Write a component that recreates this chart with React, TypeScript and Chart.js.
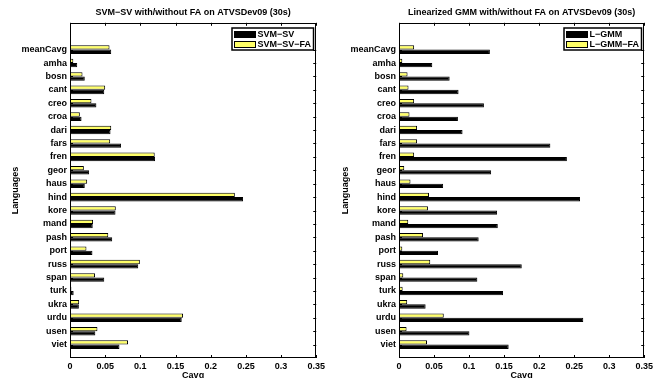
import React, { useEffect, useRef } from 'react';
import { Chart, registerables } from 'chart.js';
Chart.register(...registerables);

const languages = ['meanCavg', 'amha', 'bosn', 'cant', 'creo', 'croa', 'dari', 'fars', 'fren', 'geor', 'haus', 'hind', 'kore', 'mand', 'pash', 'port', 'russ', 'span', 'turk', 'ukra', 'urdu', 'usen', 'viet'];

const svmSV = [0.0586, 0.0103, 0.021, 0.0487, 0.0375, 0.0164, 0.0576, 0.0726, 0.1209, 0.0272, 0.021, 0.246, 0.0647, 0.0323, 0.060, 0.0319, 0.097, 0.0487, 0.0052, 0.0126, 0.1588, 0.036, 0.0703];
const svmSVFA = [0.0562, 0.0047, 0.0178, 0.050, 0.0305, 0.014, 0.0586, 0.0571, 0.1204, 0.0197, 0.0244, 0.2343, 0.0651, 0.0328, 0.0544, 0.0234, 0.0993, 0.0356, 0.002, 0.013, 0.1607, 0.039, 0.0825];

const lGMM = [0.1297, 0.0475, 0.0723, 0.085, 0.1212, 0.0841, 0.0907, 0.216, 0.2396, 0.1315, 0.063, 0.2584, 0.14, 0.141, 0.1137, 0.0557, 0.1752, 0.1118, 0.1485, 0.038, 0.263, 0.1005, 0.1565];
const lGMMFA = [0.0216, 0.0047, 0.0122, 0.0136, 0.0216, 0.015, 0.0258, 0.0258, 0.0216, 0.0075, 0.0164, 0.0428, 0.0413, 0.0132, 0.0343, 0.0047, 0.0446, 0.0061, 0.0052, 0.0117, 0.0639, 0.0108, 0.04];

const xTicks = [0, 0.05, 0.1, 0.15, 0.2, 0.25, 0.3, 0.35];
const xTickLabels = ['0', '0.05', '0.1', '0.15', '0.2', '0.25', '0.3', '0.35'];

const FONT = '"Liberation Sans", Arial, Helvetica, sans-serif';
const BLACK = '#000000';
const YELLOW = '#ffff66';

const framePlugin = {
  id: 'frame',
  afterDraw(chart: any) {
    const { ctx, chartArea: a, scales } = chart;
    ctx.save();
    ctx.strokeStyle = '#000';
    ctx.lineWidth = 1;
    ctx.strokeRect(Math.round(a.left) + 0.5, Math.round(a.top) + 0.5, Math.round(a.right - a.left) - 1, Math.round(a.bottom - a.top) - 1);
    const tl = 3;
    ctx.beginPath();
    scales.x.ticks.forEach((t: any) => {
      const px = Math.round(scales.x.getPixelForValue(t.value)) + 0.5;
      ctx.moveTo(px, a.bottom);
      ctx.lineTo(px, a.bottom - tl);
      ctx.moveTo(px, a.top);
      ctx.lineTo(px, a.top + tl);
    });
    scales.y.ticks.forEach((t: any) => {
      const py = Math.round(scales.y.getPixelForValue(t.value)) + 0.5;
      ctx.moveTo(a.left, py);
      ctx.lineTo(a.left + tl, py);
      ctx.moveTo(a.right, py);
      ctx.lineTo(a.right - tl, py);
    });
    ctx.stroke();
    ctx.restore();
  },
};

const boxLegendPlugin = {
  id: 'boxLegend',
  afterDraw(chart: any, _args: any, opts: any) {
    const items = opts.items || [];
    const { ctx, chartArea: a } = chart;
    ctx.save();
    ctx.font = `bold 9px ${FONT}`;
    const tw = Math.max(...items.map((i: any) => ctx.measureText(i.label).width));
    const sw = 21;
    const w = 2 + sw + 2 + tw + 3;
    const h = 22;
    const x0 = Math.round(a.right - 3 - w);
    const y0 = Math.round(a.top + 5.5);
    ctx.fillStyle = '#fff';
    ctx.fillRect(x0, y0, w, h);
    ctx.lineWidth = 1.5;
    ctx.strokeStyle = '#000';
    ctx.strokeRect(x0, y0, w, h);
    ctx.lineWidth = 1;
    items.forEach((it: any, i: number) => {
      const cy = y0 + 6.5 + i * 10;
      ctx.fillStyle = it.color;
      ctx.fillRect(x0 + 2.5, cy - 3, sw, 6);
      ctx.strokeRect(x0 + 2.5, cy - 3, sw, 6);
      ctx.fillStyle = '#000';
      ctx.textBaseline = 'middle';
      ctx.textAlign = 'left';
      ctx.fillText(it.label, x0 + 2.5 + sw + 2, cy + 0.5);
    });
    ctx.restore();
  },
};

function makeConfig(title: string, labelA: string, labelB: string, valsA: number[], valsB: number[], yWidth: number, yTitlePad: number): any {
  return {
    type: 'bar',
    data: {
      datasets: [
        {
          label: labelB,
          data: languages.map((_, i) => ({ x: valsB[i], y: i + 2 })),
          backgroundColor: YELLOW,
          borderColor: BLACK,
          borderWidth: 1,
          borderSkipped: false,
        },
        {
          label: labelA,
          data: languages.map((_, i) => ({ x: valsA[i], y: i + 2 })),
          backgroundColor: BLACK,
          borderColor: BLACK,
          borderWidth: 1,
          borderSkipped: false,
        },
      ],
    },
    options: {
      indexAxis: 'y',
      animation: false,
      responsive: false,
      devicePixelRatio: 1,
      categoryPercentage: 0.64,
      barPercentage: 1,
      layout: { padding: { top: 0, right: 9, bottom: 0, left: 0 } },
      plugins: {
        legend: { display: false },
        tooltip: { enabled: false },
        title: {
          display: true,
          text: title,
          fullSize: false,
          color: '#000',
          font: { family: FONT, size: 9, weight: 'bold' },
          padding: { top: 7, bottom: 5 },
        },
        boxLegend: {
          items: [
            { label: labelA, color: BLACK },
            { label: labelB, color: YELLOW },
          ],
        },
      },
      scales: {
        x: {
          type: 'linear',
          min: 0,
          max: 0.35,
          offset: false,
          afterBuildTicks: (scale: any) => {
            scale.ticks = xTicks.map((v) => ({ value: v }));
          },
          afterFit: (scale: any) => {
            scale.height = 20;
          },
          grid: { display: false, drawTicks: false, offset: false },
          border: { display: false },
          ticks: {
            padding: 3,
            color: '#000',
            font: { family: FONT, size: 9, weight: 'bold' },
            maxRotation: 0,
            autoSkip: false,
            callback: (v: any) => {
              const i = xTicks.findIndex((t) => Math.abs(t - v) < 1e-9);
              return i >= 0 ? xTickLabels[i] : '';
            },
          },
          title: {
            display: true,
            text: 'Cavg',
            color: '#000',
            font: { family: FONT, size: 9, weight: 'bold' },
            padding: { top: 0, bottom: -3 },
          },
        },
        y: {
          type: 'linear',
          reverse: true,
          min: 0,
          max: 25,
          offset: false,
          afterBuildTicks: (scale: any) => {
            scale.ticks = languages.map((_, i) => ({ value: i + 2 }));
          },
          afterFit: (scale: any) => {
            scale.width = yWidth;
          },
          grid: { display: false, drawTicks: false, offset: false },
          border: { display: false },
          ticks: {
            padding: 3,
            color: '#000',
            font: { family: FONT, size: 9, weight: 'bold' },
            autoSkip: false,
            callback: (v: any) => languages[Math.round(v) - 2] ?? '',
          },
          title: {
            display: true,
            text: 'Languages',
            color: '#000',
            font: { family: FONT, size: 9, weight: 'bold' },
            padding: { top: yTitlePad, bottom: 0 },
          },
        },
      },
    },
    plugins: [framePlugin, boxLegendPlugin],
  };
}

function ChartCanvas({ config }: { config: () => any }) {
  const ref = useRef<HTMLCanvasElement | null>(null);
  useEffect(() => {
    if (!ref.current) return;
    const chart = new Chart(ref.current, config());
    return () => chart.destroy();
  }, []);
  return <canvas ref={ref} width={328} height={378} style={{ display: 'block', width: 328, height: 378 }} />;
}

export default function App() {
  return (
    <div style={{ position: 'absolute', left: 0, top: 0, width: 656, height: 378, background: '#fff', display: 'flex', overflow: 'hidden' }}>
      <ChartCanvas config={() => makeConfig('SVM\u2212SV with/without FA on ATVSDev09 (30s)', 'SVM\u2212SV', 'SVM\u2212SV\u2212FA', svmSV, svmSVFA, 70, 10)} />
      <ChartCanvas config={() => makeConfig('Linearized GMM with/without FA on ATVSDev09 (30s)', 'L\u2212GMM', 'L\u2212GMM\u2212FA', lGMM, lGMMFA, 71, 12)} />
    </div>
  );
}
